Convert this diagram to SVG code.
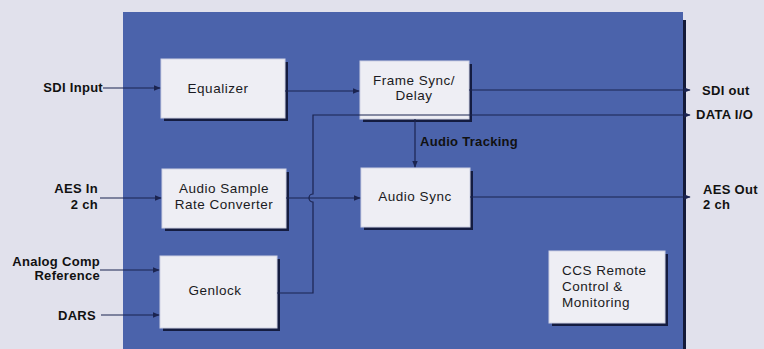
<svg xmlns="http://www.w3.org/2000/svg" width="764" height="349" viewBox="0 0 764 349">
<defs>
<marker id="ah" viewBox="0 0 10 10" refX="9" refY="5" markerWidth="7" markerHeight="7" markerUnits="userSpaceOnUse" orient="auto"><path d="M0,1 L10,5 L0,9 z" fill="#1b2450"/></marker>
<style>
.box{fill:#eeeef4;stroke:#cfd2e4;stroke-width:1}
.sh{fill:#141c40}
.t{font-family:"Liberation Sans",Arial,sans-serif;font-size:13.5px;letter-spacing:0.5px;fill:#1a1a22;text-anchor:middle}
.lb{font-family:"Liberation Sans",Arial,sans-serif;font-size:13px;letter-spacing:0.3px;font-weight:bold;fill:#111}
.c{fill:none;stroke:#1b2450;stroke-width:1.2}
</style>
</defs>
<rect x="0" y="0" width="764" height="349" fill="#e1e1ec"/>
<rect x="682" y="20" width="4" height="329" fill="#141a38"/>
<rect x="123" y="12" width="560" height="337" fill="#4b63ab"/>

<g id="equalizer"><rect class="sh" x="164" y="62" width="124" height="59"/><rect class="box" x="161" y="59" width="124" height="59"/><text class="t" x="218" y="93">Equalizer</text></g>
<g id="framesync"><rect class="sh" x="363" y="64" width="109" height="58"/><rect class="box" x="360" y="61" width="109" height="58"/><text class="t" x="414" y="85">Frame Sync/</text><text class="t" x="414" y="100">Delay</text></g>
<g id="asrc"><rect class="sh" x="165" y="172" width="124" height="59"/><rect class="box" x="162" y="169" width="124" height="59"/><text class="t" x="224" y="193">Audio Sample</text><text class="t" x="224" y="209">Rate Converter</text></g>
<g id="audiosync"><rect class="sh" x="364" y="171" width="109" height="59"/><rect class="box" x="361" y="168" width="109" height="59"/><text class="t" x="415" y="201">Audio Sync</text></g>
<g id="genlock"><rect class="sh" x="163" y="259" width="117" height="72"/><rect class="box" x="160" y="256" width="117" height="72"/><text class="t" x="215" y="295">Genlock</text></g>
<g id="ccs"><rect class="sh" x="552" y="254" width="116" height="72"/><rect class="box" x="549" y="251" width="116" height="72"/><text class="t" x="562" y="275" style="text-anchor:start">CCS Remote</text><text class="t" x="562" y="291" style="text-anchor:start">Control &amp;</text><text class="t" x="562" y="307" style="text-anchor:start">Monitoring</text></g>

<g id="connectors">
<path class="c" d="M103,88 H160" marker-end="url(#ah)"/>
<path class="c" d="M285,91 H359" marker-end="url(#ah)"/>
<path class="c" d="M469,90 H690" marker-end="url(#ah)"/>
<path class="c" d="M277,293 H313 V202 A4,4 0 0 1 313,194 V115 H690" marker-end="url(#ah)"/>
<path class="c" d="M286,198 H360" marker-end="url(#ah)"/>
<path class="c" d="M415,119 V167" marker-end="url(#ah)"/>
<path class="c" d="M470,197 H690" marker-end="url(#ah)"/>
<path class="c" d="M100,198 H161" marker-end="url(#ah)"/>
<path class="c" d="M100,270 H159" marker-end="url(#ah)"/>
<path class="c" d="M101,315 H159" marker-end="url(#ah)"/>
</g>

<g id="labels">
<text class="lb" x="103" y="92" text-anchor="end">SDI Input</text>
<text class="lb" x="98" y="193" text-anchor="end">AES In</text>
<text class="lb" x="98" y="209" text-anchor="end">2 ch</text>
<text class="lb" x="100" y="266" text-anchor="end">Analog Comp</text>
<text class="lb" x="100" y="280" text-anchor="end">Reference</text>
<text class="lb" x="96" y="320" text-anchor="end">DARS</text>
<text class="lb" x="420" y="146">Audio Tracking</text>
<text class="lb" x="702" y="95">SDI out</text>
<text class="lb" x="696" y="119">DATA I/O</text>
<text class="lb" x="703" y="194">AES Out</text>
<text class="lb" x="703" y="209">2 ch</text>
</g>
</svg>
